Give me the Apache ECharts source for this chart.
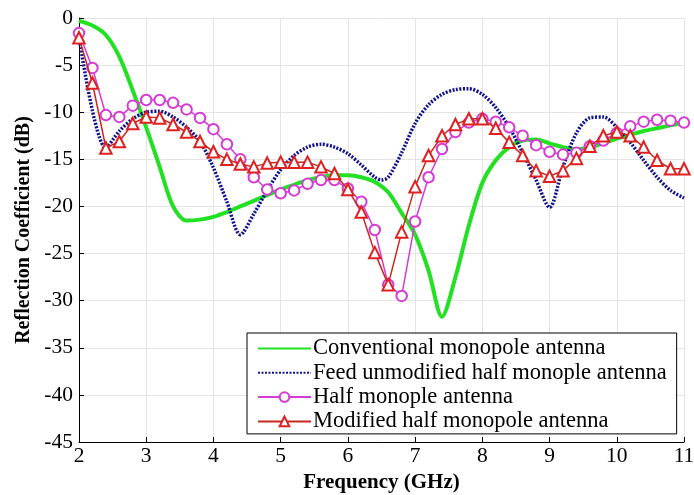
<!DOCTYPE html>
<html>
<head>
<meta charset="utf-8">
<script src="https://cdn.jsdelivr.net/npm/echarts@6/dist/echarts.min.js"></script>
<style>
  html, body { margin: 0; padding: 0; background: #fff; }
  #chart { width: 694px; height: 495px; }
</style>
</head>
<body>
<div id="chart"></div>
<script>
// Frequency sweep (GHz) shared by all four antennas
const freqs = [2.0, 2.2, 2.4, 2.6, 2.8, 3.0, 3.2, 3.4, 3.6, 3.8, 4.0, 4.2, 4.4, 4.6, 4.8,
  5.0, 5.2, 5.4, 5.6, 5.8, 6.0, 6.2, 6.4, 6.6, 6.8, 7.0, 7.2, 7.4, 7.6, 7.8, 8.0,
  8.2, 8.4, 8.6, 8.8, 9.0, 9.2, 9.4, 9.6, 9.8, 10.0, 10.2, 10.4, 10.6, 10.8, 11.0];

// Reflection coefficient (dB)
const conventional = [-0.3, -0.8, -1.8, -4.1, -7.7, -11.6, -15.8, -20.0, -21.5, -21.4, -21.1,
  -20.6, -20.0, -19.4, -18.8, -18.2, -17.7, -17.2, -16.9, -16.7, -16.7, -16.9, -17.4, -18.5,
  -20.7, -23.0, -26.8, -31.7, -27.5, -22.0, -17.5, -15.1, -13.7, -13.0, -12.9, -13.3, -13.7,
  -13.9, -13.7, -13.3, -12.8, -12.4, -12.0, -11.7, -11.4, -11.1];

const feedFreqs = [2.0, 2.4, 2.6, 2.8, 3.0, 3.2, 3.4, 3.6, 3.8, 4.0, 4.2, 4.4, 4.6, 4.8,
  5.0, 5.2, 5.4, 5.6, 5.8, 6.0, 6.2, 6.4, 6.5, 6.6, 6.8, 7.0, 7.2, 7.4, 7.6, 7.8, 8.0,
  8.2, 8.4, 8.6, 8.8, 9.0, 9.2, 9.4, 9.6, 9.8, 10.0, 10.2, 10.4, 10.6, 10.8, 11.0];
const feedUnmodified = [-2.0, -13.8, -12.0, -10.7, -10.0, -9.9, -10.5, -11.6, -13.1, -15.9,
  -19.5, -23.0, -20.8, -18.3, -16.1, -14.6, -13.7, -13.4, -13.7, -14.4, -15.6, -16.9, -17.2,
  -16.9, -14.3, -11.2, -9.2, -8.1, -7.6, -7.5, -8.1, -9.5, -11.6, -14.3, -17.2, -20.1, -15.8,
  -12.2, -10.6, -10.5, -11.6, -13.2, -15.1, -16.9, -18.3, -19.1];

const halfMonople = [-1.6, -5.3, -10.3, -10.5, -9.3, -8.7, -8.7, -9.0, -9.7, -10.6, -11.8,
  -13.4, -15.0, -16.9, -18.2, -18.6, -18.3, -17.6, -17.2, -17.2, -18.1, -19.5, -22.5, -28.3,
  -29.5, -21.6, -16.9, -13.9, -12.1, -11.1, -10.7, -11.0, -11.6, -12.5, -13.5, -14.2, -14.5,
  -14.3, -13.6, -13.0, -12.2, -11.5, -11.0, -10.8, -10.9, -11.1];

const modifiedHalf = [-2.1, -6.9, -13.8, -13.1, -11.2, -10.5, -10.6, -11.3, -12.1, -13.1, -14.2,
  -15.0, -15.5, -15.8, -15.4, -15.3, -15.3, -15.3, -15.8, -16.5, -18.2, -20.6, -24.9, -28.3,
  -22.7, -17.9, -14.6, -12.5, -11.3, -10.7, -10.7, -11.7, -13.2, -14.6, -16.2, -16.8, -16.2,
  -14.9, -13.6, -12.5, -12.1, -12.5, -13.7, -15.1, -16.0, -16.0];

const seriesNames = [
  'Conventional monopole antenna',
  'Feed unmodified half monople antenna',
  'Half monople antenna',
  'Modified half monopole antenna'
];

const pairs = (xs, ys) => xs.map((x, i) => [x, ys[i]]);
const serif = '"Liberation Serif", "Times New Roman", serif';

const chart = echarts.init(document.getElementById('chart'), null, { renderer: 'canvas' });
chart.setOption({
  animation: false,
  backgroundColor: '#ffffff',
  grid: { left: 79, right: 10, top: 18, bottom: 53, containLabel: false, outerBoundsMode: 'none' },
  legend: {
    orient: 'vertical',
    left: 247,
    top: 333,
    padding: [4, 10, 1, 10],
    itemWidth: 53,
    itemHeight: 12,
    itemGap: 1.3,
    backgroundColor: '#ffffff',
    borderColor: '#000000',
    borderWidth: 1,
    borderRadius: 0,
    textStyle: { fontFamily: serif, fontSize: 22.5, color: '#000', lineHeight: 20, padding: [0, 0, 0, -3] },
    data: [
      { name: seriesNames[0], itemStyle: { opacity: 0 } },
      { name: seriesNames[1], itemStyle: { opacity: 0 } },
      { name: seriesNames[2] },
      { name: seriesNames[3] }
    ]
  },
  xAxis: {
    type: 'value',
    min: 2, max: 11, interval: 1,
    name: 'Frequency (GHz)',
    nameLocation: 'middle',
    nameGap: 30,
    nameTextStyle: { fontFamily: serif, fontSize: 21, fontWeight: 'bold', color: '#000' },
    axisLine: { show: true, onZero: false, lineStyle: { color: '#000', width: 1 } },
    axisTick: { inside: true, length: 5, lineStyle: { color: '#000' } },
    axisLabel: { fontFamily: serif, fontSize: 21.5, color: '#000', margin: 3 },
    splitLine: { show: true, lineStyle: { color: '#e4e4e4', width: 1 } }
  },
  yAxis: {
    type: 'value',
    min: -45, max: 0, interval: 5,
    name: 'Reflection Coefficient (dB)',
    nameLocation: 'middle',
    nameGap: 44,
    nameTextStyle: { fontFamily: serif, fontSize: 20, fontWeight: 'bold', color: '#000' },
    axisLine: { show: true, onZero: false, lineStyle: { color: '#000', width: 1 } },
    axisTick: { inside: true, length: 5, lineStyle: { color: '#000' } },
    axisLabel: { fontFamily: serif, fontSize: 21.5, color: '#000', margin: 6 },
    splitLine: { show: true, lineStyle: { color: '#e4e4e4', width: 1 } }
  },
  series: [
    {
      name: seriesNames[0],
      type: 'line',
      data: pairs(freqs, conventional),
      smooth: 0.3,
      showSymbol: false,
      symbol: 'none',
      color: '#22e022',
      lineStyle: { color: '#22e022', width: 4, type: 'solid' },
      z: 2
    },
    {
      name: seriesNames[1],
      type: 'line',
      data: pairs(feedFreqs, feedUnmodified),
      smooth: 0.3,
      showSymbol: false,
      symbol: 'none',
      color: '#12128f',
      lineStyle: { color: '#12128f', width: 3.5, type: [2, 1.5] },
      z: 3
    },
    {
      name: seriesNames[2],
      type: 'line',
      data: pairs(freqs, halfMonople),
      symbol: 'emptyCircle',
      symbolSize: 10.5,
      showSymbol: true,
      showAllSymbol: true,
      color: '#d63ad6',
      lineStyle: { color: '#d63ad6', width: 1.5, type: 'solid' },
      itemStyle: { color: '#d63ad6', borderWidth: 1.5 },
      z: 4
    },
    {
      name: seriesNames[3],
      type: 'line',
      data: pairs(freqs, modifiedHalf),
      symbol: 'emptyTriangle',
      symbolSize: 11.5,
      showSymbol: true,
      showAllSymbol: true,
      color: '#e02020',
      lineStyle: { color: '#c8281e', width: 1.5, type: 'solid' },
      itemStyle: { color: '#e02020', borderWidth: 1.5 },
      z: 5
    }
  ]
});
</script>
</body>
</html>
